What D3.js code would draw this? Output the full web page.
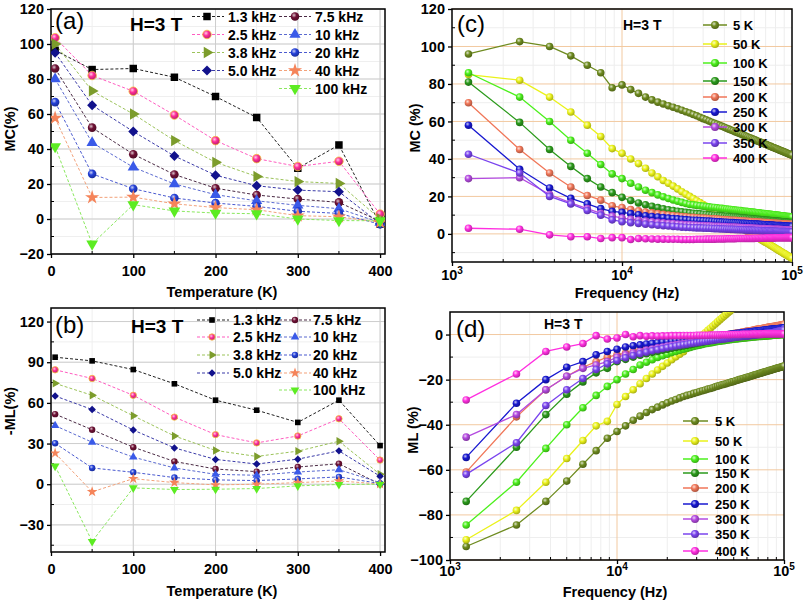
<!DOCTYPE html>
<html><head><meta charset="utf-8">
<script src="https://cdn.jsdelivr.net/npm/d3@7/dist/d3.min.js"></script>
<style>body{margin:0;background:#fff}svg{display:block}text{font-family:"Liberation Sans",Arial,Helvetica,sans-serif}</style>
</head><body><svg id="chart" width="805" height="602"></svg>
<script>
// ---------------- DATA ----------------
const temps = [5,50,100,150,200,250,300,350,400];
const freqLabels = ["1.3 kHz","2.5 kHz","3.8 kHz","5.0 kHz","7.5 kHz","10 kHz","20 kHz","40 kHz","100 kHz"];
// panel (a) MC(%) vs T for each frequency
const mcT_1_3k = [96.4,85.4,86,81,70,58,29,42.3,-3];
const mcT_2_5k = [103.6,82,73,59.4,44.8,34.5,30,33,2.8];
const mcT_3_8k = [100,73.2,60,44.8,32.4,24.3,21.4,20.3,0];
const mcT_5_0k = [95,65,50,36,25,19,16.5,15.6,-2.7];
const mcT_7_5k = [86,52.2,37,25.4,17.6,13.7,11.4,9.5,-1.3];
const mcT_10k  = [80,43.6,29.6,20,13.9,10.4,7.8,5.9,-2];
const mcT_20k  = [66.8,25.8,17.3,12,9.1,7.2,4.4,3.2,-3];
const mcT_40k  = [57.7,12.3,12.5,8.7,6.5,5.3,1.9,1.3,-1.9];
const mcT_100k = [41.4,-14.2,8.2,4.6,3.4,3,0,-0.9,-1];
// panel (b) -ML(%) vs T
const mlT_1_3k = [93.7,91,84.6,74.1,62,54.6,45.6,62,28.5];
const mlT_2_5k = [84.4,78,65.6,49.5,36.6,30.5,35.6,48.3,17.8];
const mlT_3_8k = [74.4,65.6,50.5,35.6,24.9,20.5,24.4,31.7,7.3];
const mlT_5_0k = [65.1,55.1,40,26.8,18.3,14.9,18.5,24.6,5.9];
const mlT_7_5k = [51.7,40.2,27.3,16.8,11.2,9.3,12.7,15.1,0];
const mlT_10k  = [43.2,31,20,12,7.3,6.6,9,10.7,1.2];
const mlT_20k  = [30.2,12,8.8,4.9,3.2,2.7,3.9,5.4,0.5];
const mlT_40k  = [22.9,-5.6,4.1,1.2,-0.5,0,1.2,2.4,0.2];
const mlT_100k = [13.4,-42.2,-2.7,-3.9,-3.7,-3.2,-1.2,-0.2,0];

const tempLabels = ["5 K","50 K","100 K","150 K","200 K","250 K","300 K","350 K","400 K"];
const freqHz = [1250,2500,3750,5000,6250,7500,8750,10000,11250,12500,13750,15000,16250,17500,18750,20000,21250,22500,23750,25000,26250,27500,28750,30000,31250,32500,33750,35000,36250,37500,38750,40000,41250,42500,43750,45000,46250,47500,48750,50000,51250,52500,53750,55000,56250,57500,58750,60000,61250,62500,63750,65000,66250,67500,68750,70000,71250,72500,73750,75000,76250,77500,78750,80000,81250,82500,83750,85000,86250,87500,88750,90000,91250,92500,93750,95000,96250,97500,98750,100000];
// panel (c) MC(%) vs f
const mcF_5K = [96,102.6,100,95,90,86,78,79.5,77,75,73,71.5,70.3,69.3,68.4,67.6,66.8,66,65.2,64.5,63.7,63,62.2,61.5,60.9,60.2,59.6,59,58.5,57.9,57.4,56.9,56.4,55.9,55.4,55,54.5,54.1,53.7,53.3,52.9,52.5,52.1,51.7,51.3,51,50.6,50.3,50,49.6,49.3,49,48.7,48.4,48.1,47.8,47.5,47.2,46.9,46.7,46.4,46.1,45.9,45.6,45.4,45.1,44.9,44.6,44.4,44.2,43.9,43.7,43.5,43.3,43,42.8,42.6,42.4,42.2,42];
const mcF_50K = [85,82,73,65,58,52,45.5,43,40,37.5,35,32.5,30.5,28.5,27,25.5,24,22.5,21.2,20,18.8,17.7,16.7,15.7,14.7,13.8,12.9,12,11.2,10.3,9.6,8.8,8.1,7.4,6.7,6,5.4,4.7,4.1,3.5,2.9,2.3,1.8,1.2,0.7,0.2,-0.3,-0.8,-1.3,-1.8,-2.3,-2.7,-3.2,-3.6,-4.1,-4.5,-4.9,-5.3,-5.7,-6.2,-6.5,-6.9,-7.3,-7.7,-8.1,-8.4,-8.8,-9.1,-9.5,-9.8,-10.2,-10.5,-10.8,-11.1,-11.5,-11.8,-12.1,-12.4,-12.7,-13];
const mcF_100K = [86,73,60,50,43,37,32,29.5,27,25,23.3,22,20.8,19.8,18.9,18.1,17.4,16.8,16.2,15.7,15.5,15.2,15,14.8,14.6,14.4,14.2,14.1,13.9,13.7,13.6,13.4,13.3,13.1,13,12.9,12.7,12.6,12.5,12.4,12.2,12.1,12,11.9,11.8,11.7,11.6,11.5,11.4,11.3,11.2,11.1,11,10.9,10.8,10.7,10.6,10.6,10.5,10.4,10.3,10.2,10.2,10.1,10,9.9,9.9,9.8,9.7,9.6,9.6,9.5,9.4,9.4,9.3,9.2,9.2,9.1,9.1,9];
const mcF_150K = [81,59.5,45,36,29.5,25,22,19.5,17.8,16.5,15.5,14.7,14,13.4,12.9,12.5,12.1,11.8,11.5,11.2,11,10.8,10.7,10.5,10.4,10.2,10.1,9.9,9.8,9.7,9.6,9.4,9.3,9.2,9.1,9,8.9,8.8,8.7,8.6,8.5,8.4,8.3,8.2,8.2,8.1,8,7.9,7.8,7.8,7.7,7.6,7.5,7.5,7.4,7.3,7.3,7.2,7.1,7.1,7,7,6.9,6.8,6.8,6.7,6.7,6.6,6.6,6.5,6.5,6.4,6.3,6.3,6.2,6.2,6.1,6.1,6,6];
const mcF_200K = [70,45,32.5,25,20.5,18,15,14,13,12.3,11.7,11.2,10.8,10.4,10.1,9.8,9.5,9.3,9.1,8.9,8.8,8.6,8.5,8.4,8.3,8.2,8,8,7.9,7.8,7.7,7.6,7.5,7.4,7.3,7.2,7.2,7.1,7,7,6.9,6.8,6.7,6.7,6.6,6.6,6.5,6.4,6.4,6.3,6.3,6.2,6.2,6.1,6.1,6,6,5.9,5.9,5.8,5.8,5.7,5.7,5.6,5.6,5.5,5.5,5.5,5.4,5.4,5.3,5.3,5.3,5.2,5.2,5.1,5.1,5.1,5,5];
const mcF_250K = [58,34.5,24.5,19,16,13.5,12,11.5,10.8,10.2,9.7,9.3,9,8.7,8.4,8.2,8,7.8,7.6,7.4,7.3,7.2,7.1,7,6.9,6.8,6.7,6.6,6.5,6.4,6.3,6.2,6.2,6.1,6,6,5.9,5.8,5.8,5.7,5.6,5.6,5.5,5.5,5.4,5.4,5.3,5.3,5.2,5.2,5.1,5.1,5,5,4.9,4.9,4.8,4.8,4.7,4.7,4.7,4.6,4.6,4.5,4.5,4.5,4.4,4.4,4.4,4.3,4.3,4.3,4.2,4.2,4.2,4.1,4.1,4.1,4,4];
const mcF_300K = [29.5,30,21,16.5,13.5,11,9.5,8.5,7.8,7.3,6.9,6.5,6.2,5.9,5.7,5.5,5.3,5.1,4.9,4.8,4.7,4.6,4.5,4.4,4.3,4.3,4.2,4.1,4,4,3.9,3.9,3.8,3.7,3.7,3.6,3.6,3.5,3.5,3.4,3.4,3.3,3.3,3.2,3.2,3.1,3.1,3,3,3,2.9,2.9,2.8,2.8,2.8,2.7,2.7,2.7,2.6,2.6,2.5,2.5,2.5,2.5,2.4,2.4,2.4,2.3,2.3,2.3,2.2,2.2,2.2,2.2,2.1,2.1,2.1,2,2,2];
const mcF_350K = [42.5,32.5,20,16,12.5,10,7.5,6.5,6,5.6,5.2,4.9,4.6,4.4,4.2,4,3.8,3.6,3.5,3.4,3.3,3.2,3.2,3.1,3,3,2.9,2.8,2.8,2.7,2.6,2.6,2.5,2.5,2.4,2.4,2.3,2.3,2.2,2.2,2.2,2.1,2.1,2,2,2,1.9,1.9,1.8,1.8,1.8,1.7,1.7,1.7,1.6,1.6,1.6,1.6,1.5,1.5,1.5,1.4,1.4,1.4,1.4,1.3,1.3,1.3,1.3,1.2,1.2,1.2,1.2,1.1,1.1,1.1,1.1,1,1,1];
const mcF_400K = [3,2.5,-0.5,-1.5,-1.5,-2.5,-2,-2,-3,-2.5,-2.6,-2.7,-2.8,-2.8,-2.9,-2.9,-2.9,-3,-3,-3,-3,-2.9,-2.9,-2.9,-2.8,-2.8,-2.8,-2.8,-2.7,-2.7,-2.7,-2.7,-2.6,-2.6,-2.6,-2.6,-2.6,-2.5,-2.5,-2.5,-2.5,-2.5,-2.4,-2.4,-2.4,-2.4,-2.4,-2.4,-2.3,-2.3,-2.3,-2.3,-2.3,-2.3,-2.3,-2.2,-2.2,-2.2,-2.2,-2.2,-2.2,-2.2,-2.2,-2.1,-2.1,-2.1,-2.1,-2.1,-2.1,-2.1,-2.1,-2.1,-2,-2,-2,-2,-2,-2,-2,-2];
// panel (d) ML(%) vs f
const mlF_5K = [-94,-84.5,-74,-65,-57.5,-51.5,-46,-43,-40.5,-38,-36.2,-34.6,-33.3,-32.2,-31.2,-30.3,-29.5,-28.8,-28.1,-27.5,-27,-26.6,-26.1,-25.7,-25.3,-24.9,-24.6,-24.2,-23.9,-23.6,-23.2,-22.9,-22.6,-22.3,-22.1,-21.8,-21.5,-21.3,-21,-20.8,-20.5,-20.3,-20,-19.8,-19.6,-19.4,-19.2,-19,-18.8,-18.6,-18.4,-18.2,-18,-17.8,-17.6,-17.5,-17.3,-17.1,-17,-16.8,-16.6,-16.5,-16.3,-16.2,-16,-15.9,-15.7,-15.6,-15.4,-15.3,-15.2,-15,-14.9,-14.8,-14.6,-14.5,-14.4,-14.3,-14.1,-14];
const mlF_50K = [-91,-78,-65.5,-55,-47,-40.5,-38.5,-31,-27.5,-24.5,-21.8,-19.5,-17.5,-15.7,-14.1,-12.6,-11.2,-9.9,-8.7,-7.6,-6.2,-4.9,-3.7,-2.5,-1.3,-0.2,0.8,1.9,2.8,3.8,4.7,5.6,6.5,7.3,8.1,8.9,9.7,10.4,11.2,11.9,12.6,13.3,13.9,14.6,15.2,15.8,16.4,17,17.6,18.2,18.7,19.3,19.8,20.3,20.9,21.4,21.9,22.4,22.8,23.3,23.8,24.2,24.7,25.1,25.6,26,26.4,26.8,27.2,27.6,28,28.4,28.8,29.2,29.6,30,30.3,30.7,31.1,31.4];
const mlF_100K = [-84.5,-65.5,-50.5,-40,-32.5,-27,-23,-20,-17.5,-15.5,-13.5,-12.3,-11.2,-10.2,-9.4,-8.7,-8,-7.5,-7,-6.5,-6.1,-5.7,-5.3,-5,-4.7,-4.4,-4.1,-3.9,-3.7,-3.5,-3.3,-3.1,-3,-2.8,-2.7,-2.5,-2.4,-2.3,-2.2,-2.1,-2,-1.9,-1.8,-1.7,-1.6,-1.5,-1.5,-1.4,-1.3,-1.3,-1.2,-1.1,-1.1,-1,-1,-0.9,-0.9,-0.8,-0.8,-0.7,-0.7,-0.6,-0.6,-0.5,-0.5,-0.5,-0.4,-0.4,-0.3,-0.3,-0.3,-0.2,-0.2,-0.2,-0.1,-0.1,-0.1,0,0,0];
const mlF_150K = [-74,-50,-35.5,-26.5,-21,-17,-15,-12,-11,-10,-9.2,-8.5,-7.9,-7.4,-6.9,-6.5,-6.1,-5.7,-5.4,-5.1,-4.8,-4.5,-4.2,-3.9,-3.6,-3.4,-3.1,-2.9,-2.6,-2.4,-2.2,-2,-1.8,-1.6,-1.4,-1.2,-1,-0.9,-0.7,-0.5,-0.4,-0.2,-0.1,0.1,0.2,0.4,0.5,0.6,0.7,0.9,1,1.1,1.2,1.3,1.4,1.5,1.6,1.7,1.8,1.9,2,2.1,2.2,2.3,2.3,2.4,2.5,2.6,2.6,2.7,2.8,2.8,2.9,2.9,3,3,3.1,3.1,3.2,3.2];
const mlF_200K = [-61,-36.5,-24.5,-18.5,-14.5,-12,-10,-9,-8.2,-7.5,-6.9,-6.4,-5.9,-5.5,-5.1,-4.8,-4.5,-4.2,-3.9,-3.7,-3.4,-3.1,-2.9,-2.6,-2.4,-2.2,-1.9,-1.7,-1.5,-1.3,-1.1,-0.9,-0.7,-0.6,-0.4,-0.2,-0.1,0.1,0.2,0.4,0.5,0.7,0.8,0.9,1.1,1.2,1.3,1.5,1.6,1.7,1.8,1.9,2.1,2.2,2.3,2.4,2.5,2.6,2.7,2.8,2.9,3,3.1,3.2,3.3,3.3,3.4,3.5,3.6,3.7,3.8,3.8,3.9,4,4.1,4.1,4.2,4.3,4.4,4.5];
const mlF_250K = [-54.5,-30.5,-20,-14.5,-12,-9,-7.5,-6.5,-5.5,-5,-4.6,-4.2,-3.9,-3.6,-3.3,-3.1,-2.9,-2.7,-2.5,-2.3,-2.1,-1.9,-1.8,-1.6,-1.4,-1.3,-1.1,-1,-0.9,-0.7,-0.6,-0.5,-0.4,-0.3,-0.2,-0.1,0,0.1,0.2,0.3,0.4,0.5,0.6,0.7,0.8,0.9,1,1,1.1,1.2,1.3,1.3,1.4,1.5,1.6,1.6,1.7,1.8,1.8,1.9,2,2,2.1,2.1,2.2,2.3,2.3,2.4,2.4,2.5,2.5,2.6,2.6,2.7,2.7,2.8,2.8,2.9,2.9,3];
const mlF_300K = [-45.5,-35.5,-24.5,-18.5,-15,-13.5,-12,-10,-9,-8.2,-7.5,-6.9,-6.4,-5.9,-5.5,-5.1,-4.8,-4.5,-4.2,-4,-3.8,-3.6,-3.4,-3.2,-3,-2.9,-2.7,-2.6,-2.5,-2.3,-2.2,-2.1,-2,-1.9,-1.8,-1.7,-1.6,-1.5,-1.4,-1.3,-1.2,-1.1,-1,-0.9,-0.9,-0.8,-0.7,-0.6,-0.6,-0.5,-0.4,-0.4,-0.3,-0.2,-0.2,-0.1,-0.1,0,0,0.1,0.1,0.2,0.2,0.3,0.3,0.4,0.4,0.5,0.5,0.6,0.6,0.6,0.7,0.7,0.8,0.8,0.8,0.9,0.9,1];
const mlF_350K = [-62,-48,-31.5,-24.5,-19.5,-15.5,-13,-11.5,-10.3,-9.3,-8.5,-7.8,-7.2,-6.7,-6.2,-5.8,-5.4,-5.1,-4.8,-4.5,-4.3,-4,-3.8,-3.6,-3.4,-3.2,-3.1,-2.9,-2.7,-2.6,-2.4,-2.3,-2.2,-2,-1.9,-1.8,-1.7,-1.5,-1.4,-1.3,-1.2,-1.1,-1,-0.9,-0.8,-0.7,-0.6,-0.6,-0.5,-0.4,-0.3,-0.2,-0.2,-0.1,0,0.1,0.1,0.2,0.3,0.3,0.4,0.5,0.5,0.6,0.7,0.7,0.8,0.8,0.9,1,1.1,1.2,1.3,1.4,1.5,1.6,1.7,1.8,1.9,2];
const mlF_400K = [-29,-17.5,-7.5,-5.5,-4,-0.5,-2,-1.5,0,-1,-0.5,-0.8,-0.6,-0.7,-0.6,-0.6,-0.5,-0.5,-0.5,-0.4,-0.4,-0.4,-0.4,-0.3,-0.3,-0.3,-0.3,-0.3,-0.2,-0.2,-0.2,-0.2,-0.2,-0.1,-0.1,-0.1,-0.1,-0.1,0,0,0,0,0,0,0.1,0.1,0.1,0.1,0.1,0.1,0.1,0.2,0.2,0.2,0.2,0.2,0.2,0.2,0.2,0.2,0.3,0.3,0.3,0.3,0.3,0.3,0.3,0.3,0.3,0.3,0.3,0.3,0.3,0.3,0.3,0.3,0.3,0.3,0.3,0.3];

const yTicksA = [-20,0,20,40,60,80,100,120];
const yTicksB = [-30,0,30,60,90,120];
const xTicksT = [0,100,200,300,400];
const yTicksC = [0,20,40,60,80,100,120];
const yTicksD = [-100,-80,-60,-40,-20,0];
const xTicksF = [1000,10000,100000];

// ---------------- STYLE / LAYOUT ----------------
const FONT = '"Liberation Sans", Arial, Helvetica, sans-serif';
const svg = d3.select('#chart');
const defs = svg.append('defs');

const abStyle = [
  {shape:'square', fill:'#000000', line:'#222222'},
  {shape:'ball', fill:'#ff2e98', line:'#ff5cc0', ring:'#f7c640'},
  {shape:'triR', fill:'#7c9c2c', line:'#9cc35a'},
  {shape:'diamond', fill:'#12128c', line:'#3a3aa8'},
  {shape:'ball', fill:'#6e1034', line:'#4a2a44'},
  {shape:'triU', fill:'#3a5ae8', line:'#5a6ad0'},
  {shape:'ball', fill:'#2440d8', line:'#4a5ad0'},
  {shape:'star', fill:'#f5845a', line:'#f3a27a'},
  {shape:'triD', fill:'#5cec22', line:'#8ae85e'}
];
const cdColors = ['#6e8b1f','#eaf21a','#4cf01c','#2b9a1b','#f07658','#1818d0','#b44ae0','#7a44ee','#ff2ee0'];

const gradCache = {};
function ballFill(color){
  const id = 'grad' + color.replace('#','');
  if(!gradCache[id]){
    const g = defs.append('radialGradient').attr('id',id).attr('cx','38%').attr('cy','35%').attr('r','65%');
    g.append('stop').attr('offset','0%').attr('stop-color', d3.interpolateRgb(color,'#ffffff')(0.75));
    g.append('stop').attr('offset','45%').attr('stop-color', color);
    g.append('stop').attr('offset','100%').attr('stop-color', d3.color(color).darker(0.9).formatHex());
    gradCache[id] = true;
  }
  return `url(#${id})`;
}

function marker(g, st, x, y, k){
  const s = st.shape;
  if(s==='ball'){
    g.append('circle').attr('cx',x).attr('cy',y).attr('r',4.3*k).attr('fill',ballFill(st.fill))
      .attr('stroke', st.ring||'none').attr('stroke-width', st.ring?0.8:0);
    return;
  }
  let type, area, rot=0;
  if(s==='square'){type=d3.symbolSquare; area=56;}
  else if(s==='diamond'){type=d3.symbolSquare; area=50; rot=45;}
  else if(s==='triU'){type=d3.symbolTriangle; area=55;}
  else if(s==='triD'){type=d3.symbolTriangle; area=60; rot=180;}
  else if(s==='triR'){type=d3.symbolTriangle; area=55; rot=90;}
  else if(s==='star'){type=d3.symbolStar; area=62;}
  g.append('path').attr('d', d3.symbol().type(type).size(area*k*k)())
    .attr('transform',`translate(${x},${y}) rotate(${rot})`).attr('fill',st.fill);
}

let clipN = 0;
function frame(p){
  const g = svg.append('g');
  const id = 'clip'+(clipN++);
  defs.append('clipPath').attr('id',id).append('rect')
    .attr('x',p.x0).attr('y',p.y0).attr('width',p.x1-p.x0).attr('height',p.y1-p.y0);
  p.clip = `url(#${id})`;
  return g;
}

function linearPanel(p, yTicks, yMinorStep, xMinorStep){
  const g = frame(p);
  const x = d3.scaleLinear().domain(p.xd).range([p.x0,p.x1]);
  const y = d3.scaleLinear().domain(p.yd).range([p.y1,p.y0]);
  const grid = g.append('g');
  d3.range(p.xd[0], p.xd[1], xMinorStep).forEach(v=>{ if(v>p.xd[0]) grid.append('line').attr('x1',x(v)).attr('x2',x(v)).attr('y1',p.y0).attr('y2',p.y1).attr('stroke','#efefef');});
  d3.range(Math.ceil(p.yd[0]/yMinorStep)*yMinorStep, p.yd[1], yMinorStep).forEach(v=>{ grid.append('line').attr('y1',y(v)).attr('y2',y(v)).attr('x1',p.x0).attr('x2',p.x1).attr('stroke','#efefef');});
  xTicksT.forEach(v=>{ if(v>p.xd[0]) grid.append('line').attr('x1',x(v)).attr('x2',x(v)).attr('y1',p.y0).attr('y2',p.y1).attr('stroke','#cdcdcd');});
  yTicks.forEach(v=>{ grid.append('line').attr('y1',y(v)).attr('y2',y(v)).attr('x1',p.x0).attr('x2',p.x1).attr('stroke','#cdcdcd');});
  const ax = g.append('g').attr('transform',`translate(0,${p.y1})`)
    .call(d3.axisBottom(x).tickValues(xTicksT).tickSize(4).tickPadding(3).tickFormat(d3.format('d')));
  const ay = g.append('g').attr('transform',`translate(${p.x0},0)`)
    .call(d3.axisLeft(y).tickValues(yTicks).tickSize(4).tickPadding(3).tickFormat(d3.format('d')));
  [ax,ay].forEach(a=>{ a.select('.domain').remove(); a.selectAll('line').attr('stroke','#000').attr('stroke-width',1.3);
    a.selectAll('text').attr('font-family',FONT).attr('font-weight','bold').attr('font-size',14.5).attr('fill','#000');});
  ax.selectAll('text').attr('dy','1em');
  const mt = g.append('g');
  d3.range(p.xd[0]+xMinorStep, p.xd[1], xMinorStep).forEach(v=>{ if(!xTicksT.includes(v)) mt.append('line').attr('x1',x(v)).attr('x2',x(v)).attr('y1',p.y1).attr('y2',p.y1-3).attr('stroke','#000');});
  d3.range(Math.ceil(p.yd[0]/yMinorStep)*yMinorStep, p.yd[1], yMinorStep).forEach(v=>{ if(!yTicks.includes(v)) mt.append('line').attr('x1',p.x0).attr('x2',p.x0+3).attr('y1',y(v)).attr('y2',y(v)).attr('stroke','#000');});
  g.append('rect').attr('x',p.x0).attr('y',p.y0).attr('width',p.x1-p.x0).attr('height',p.y1-p.y0)
    .attr('fill','none').attr('stroke','#000').attr('stroke-width',1.5);
  return {g,x,y};
}

function logPanel(p, yTicks, yMinorStep){
  const g = frame(p);
  const x = d3.scaleLog().domain([1000,100000]).range([p.x0,p.x1]);
  const y = d3.scaleLinear().domain(p.yd).range([p.y1,p.y0]);
  const minors = [];
  [1000,10000].forEach(b=>{ for(let m=2;m<=9;m++) minors.push(b*m); });
  const grid = g.append('g');
  minors.forEach(v=>grid.append('line').attr('x1',x(v)).attr('x2',x(v)).attr('y1',p.y0).attr('y2',p.y1).attr('stroke','#eeeeee'));
  d3.range(Math.ceil(p.yd[0]/yMinorStep)*yMinorStep, p.yd[1], yMinorStep).forEach(v=>{ if(!yTicks.includes(v)) grid.append('line').attr('y1',y(v)).attr('y2',y(v)).attr('x1',p.x0).attr('x2',p.x1).attr('stroke','#eeeeee');});
  grid.append('line').attr('x1',x(10000)).attr('x2',x(10000)).attr('y1',p.y0).attr('y2',p.y1).attr('stroke','#f2c9a0');
  yTicks.forEach(v=>grid.append('line').attr('y1',y(v)).attr('y2',y(v)).attr('x1',p.x0).attr('x2',p.x1).attr('stroke','#f2c9a0'));
  const ax = g.append('g').attr('transform',`translate(0,${p.y1})`)
    .call(d3.axisBottom(x).tickValues(xTicksF).tickSize(4).tickFormat(''));
  const ay = g.append('g').attr('transform',`translate(${p.x0},0)`)
    .call(d3.axisLeft(y).tickValues(yTicks).tickSize(4).tickPadding(3).tickFormat(d3.format('d')));
  [ax,ay].forEach(a=>{ a.select('.domain').remove(); a.selectAll('line').attr('stroke','#000').attr('stroke-width',1.3);});
  ay.selectAll('text').attr('font-family',FONT).attr('font-weight','bold').attr('font-size',14.5).attr('fill','#000');
  xTicksF.forEach(v=>{
    const t = g.append('text').attr('x',x(v)).attr('y',p.y1+p.xlabDy).attr('text-anchor','middle')
      .attr('font-family',FONT).attr('font-weight','bold').attr('font-size',14.5);
    t.append('tspan').text('10');
    t.append('tspan').attr('dy',-6).attr('font-size',10).text(String(Math.round(Math.log10(v))));
  });
  const mt = g.append('g');
  minors.forEach(v=>mt.append('line').attr('x1',x(v)).attr('x2',x(v)).attr('y1',p.y1).attr('y2',p.y1-3).attr('stroke','#000'));
  d3.range(Math.ceil(p.yd[0]/yMinorStep)*yMinorStep, p.yd[1], yMinorStep).forEach(v=>{ if(!yTicks.includes(v)) mt.append('line').attr('x1',p.x0).attr('x2',p.x0+3).attr('y1',y(v)).attr('y2',y(v)).attr('stroke','#000');});
  g.append('rect').attr('x',p.x0).attr('y',p.y0).attr('width',p.x1-p.x0).attr('height',p.y1-p.y0)
    .attr('fill','none').attr('stroke','#000').attr('stroke-width',1.5);
  return {g,x,y};
}

function txt(x,y,s,opt){
  const t = svg.append('text').attr('x',x).attr('y',y).text(s).attr('font-family',FONT)
    .attr('font-size',opt.size||14).attr('font-weight',opt.weight||'bold').attr('fill','#000');
  if(opt.anchor) t.attr('text-anchor',opt.anchor);
  if(opt.rot) t.attr('transform',`rotate(-90,${x},${y})`);
  return t;
}

// ---------- Panels (a) and (b) ----------
function drawTempPanel(p, series, k, legend){
  const {g,x,y} = linearPanel(p, p.yTicks, p.yMinor, 50);
  const data = g.append('g').attr('clip-path', p.clip);
  const line = d3.line().x((d,i)=>x(temps[i])).y(d=>y(d));
  series.forEach((vals,i)=>{
    data.append('path').attr('d',line(vals)).attr('fill','none').attr('stroke',abStyle[i].line)
      .attr('stroke-width',1).attr('stroke-dasharray','3,2');
  });
  series.forEach((vals,i)=>{
    vals.forEach((v,j)=>marker(data, abStyle[i], x(temps[j]), y(v), k));
  });
  const lg = svg.append('g');
  freqLabels.forEach((lab,i)=>{
    const col = i<4?0:1, row = i<4?i:i-4;
    const L = legend.cols[col];
    const yy = legend.rows[row];
    lg.append('line').attr('x1',L.l1).attr('x2',L.l2).attr('y1',yy).attr('y2',yy)
      .attr('stroke',abStyle[i].line).attr('stroke-width',1.2).attr('stroke-dasharray','3,2');
    marker(lg, abStyle[i], L.m, yy, k);
    lg.append('text').attr('x',L.t).attr('y',yy+5).text(lab).attr('font-family',FONT)
      .attr('font-weight','bold').attr('font-size',14);
  });
}

const pA = {x0:51,x1:385,y0:9,y1:254,xd:[0,406],yd:[-20,120],yTicks:yTicksA,yMinor:10};
drawTempPanel(pA,[mcT_1_3k,mcT_2_5k,mcT_3_8k,mcT_5_0k,mcT_7_5k,mcT_10k,mcT_20k,mcT_40k,mcT_100k],1,
  {cols:[{l1:192,l2:224,m:207,t:228},{l1:279,l2:311,m:295,t:315}], rows:[16.5,34.5,52.5,70.5,88.5]});
const pB = {x0:51,x1:385,y0:308,y1:552,xd:[0,406],yd:[-50,130],yTicks:yTicksB,yMinor:15};
drawTempPanel(pB,[mlT_1_3k,mlT_2_5k,mlT_3_8k,mlT_5_0k,mlT_7_5k,mlT_10k,mlT_20k,mlT_40k,mlT_100k],0.75,
  {cols:[{l1:197,l2:229,m:212,t:233},{l1:279,l2:311,m:295,t:313}], rows:[320,337,355,373,390]});

txt(55,29,'(a)',{size:24,weight:'normal'});
txt(130,31,'H=3 T',{size:19});
txt(222,297,'Temperature (K)',{size:14.5,anchor:'middle'});
txt(15,129,'MC(%)',{size:14.5,anchor:'middle',rot:true});
txt(55,333,'(b)',{size:24,weight:'normal'});
txt(131,333,'H=3 T',{size:19});
txt(222,596,'Temperature (K)',{size:14.5,anchor:'middle'});
txt(15,411,'-ML(%)',{size:14.5,anchor:'middle',rot:true});

// ---------- Panels (c) and (d) ----------
function drawFreqPanel(p, series, legend){
  const {g,x,y} = logPanel(p, p.yTicks, p.yMinor);
  const data = g.append('g').attr('clip-path', p.clip);
  const line = d3.line().x((d,i)=>x(freqHz[i])).y(d=>y(d));
  series.forEach((vals,i)=>{
    const sg = data.append('g');
    sg.append('path').attr('d',line(vals)).attr('fill','none').attr('stroke',cdColors[i]).attr('stroke-width',1.3);
    vals.forEach((v,j)=>sg.append('circle').attr('cx',x(freqHz[j])).attr('cy',y(v)).attr('r',3.8).attr('fill',ballFill(cdColors[i])));
  });
  const lg = svg.append('g');
  tempLabels.forEach((lab,i)=>{
    const yy = legend.rows[i];
    lg.append('line').attr('x1',legend.l1).attr('x2',legend.l2).attr('y1',yy).attr('y2',yy).attr('stroke',cdColors[i]).attr('stroke-width',1.5);
    lg.append('circle').attr('cx',legend.m).attr('cy',yy).attr('r',4).attr('fill',ballFill(cdColors[i]));
    lg.append('text').attr('x',legend.t).attr('y',yy+4.5).text(lab).attr('font-family',FONT)
      .attr('font-weight','bold').attr('font-size',13);
  });
}

const pC = {x0:452,x1:792,y0:9,y1:262,yd:[-15,120],yTicks:yTicksC,yMinor:10,xlabDy:18};
drawFreqPanel(pC,[mcF_5K,mcF_50K,mcF_100K,mcF_150K,mcF_200K,mcF_250K,mcF_300K,mcF_350K,mcF_400K],
  {l1:703,l2:727,m:715,t:733,rows:[25,44,63,81,97,112,127,143,158]});
const pD = {x0:450,x1:784,y0:312,y1:560,yd:[-100,10],yTicks:yTicksD,yMinor:10,xlabDy:16};
drawFreqPanel(pD,[mlF_5K,mlF_50K,mlF_100K,mlF_150K,mlF_200K,mlF_250K,mlF_300K,mlF_350K,mlF_400K],
  {l1:683,l2:708,m:695,t:715,rows:[421,441,459,473,488,504,519,534,551]});

txt(457,32,'(c)',{size:24,weight:'normal'});
txt(623,30,'H=3 T',{size:14});
txt(627,298,'Frequency (Hz)',{size:14.5,anchor:'middle'});
txt(420,128,'MC (%)',{size:14.5,anchor:'middle',rot:true});
txt(456,337,'(d)',{size:24,weight:'normal'});
txt(544,329,'H=3 T',{size:14});
txt(615,597,'Frequency (Hz)',{size:14.5,anchor:'middle'});
txt(418,430,'ML (%)',{size:14.5,anchor:'middle',rot:true});
</script></body></html>
